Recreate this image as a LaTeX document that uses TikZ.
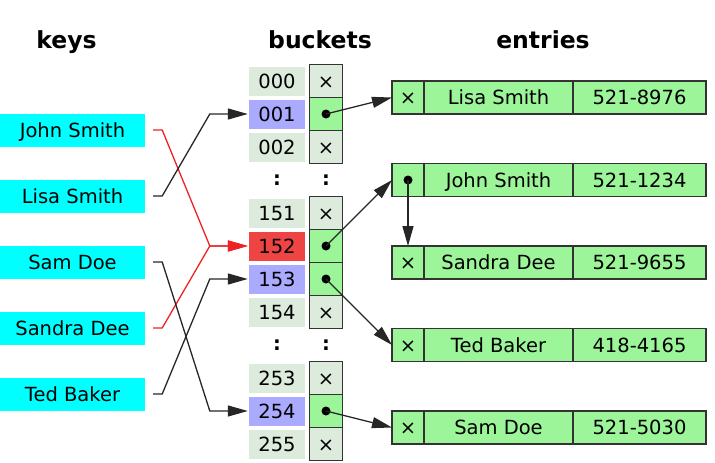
\documentclass[tikz,border=0pt]{standalone}
\usepackage{fontspec}
\setmainfont{DejaVu Sans}
\usepackage{tikz}
\usetikzlibrary{calc, arrows.meta, positioning}
\definecolor{keycyan}{HTML}{00FFFF}
\definecolor{idxgray}{HTML}{DCEBDC}
\definecolor{idxblue}{HTML}{AAAAFF}
\definecolor{idxred}{HTML}{EE4444}
\definecolor{cellgreen}{HTML}{9DF59A}
\definecolor{cellline}{HTML}{333333}
\definecolor{linered}{HTML}{EE2222}
\tikzset{
    keynode/.style = {fill=keycyan, rectangle, inner sep=0em, minimum width=145pt, minimum height=33pt, 
      text height=14pt, text depth=0pt, font=\fontsize{19.5}{23}\selectfont},
    idxnode/.style = {rectangle, inner sep=0em, minimum width=56pt, minimum height=29pt, 
      text height=14pt, text depth=0pt, font=\fontsize{19.5}{23}\selectfont},
    ptrnode/.style = {draw=cellline, line width=1.5pt, rectangle, inner sep=0em, minimum size=33pt, 
      text height=14pt, text depth=0pt, font=\fontsize{19.5}{23}\selectfont},
    entrynode/.style = {draw=cellline, line width=1.5pt, fill=cellgreen, rectangle, inner sep=0em, outer sep=0pt, 
      minimum height=33pt, text height=14pt, text depth=0pt, font=\fontsize{19.5}{23}\selectfont},
    textnode/.style = {draw=none, fill=none, inner sep=0em, font=\fontsize{19.5}{23}\selectfont\bfseries},
    titlenode/.style = {draw=none, fill=none, inner sep=0em, anchor=base, font=\fontsize{23.5}{28}\selectfont\bfseries},
    dotnode/.style = {fill=black, circle, inner sep=0em, minimum size=9pt},
    connect/.style = {black!85, line width=1.3pt, -{Triangle[length=20pt,width=11pt]}},
    hashlink/.style = {connect, shorten >=1pt},
    hashred/.style = {hashlink, linered}
}
\begin{document}
\begin{tikzpicture}[x=1pt, y=-1pt]
    \useasboundingbox (0,0) rectangle (715,463);

    % titles
    \node [name=tkeys, titlenode] at (66.5,48) {keys};
    \node [name=tbuckets, titlenode] at (320,48) {buckets};
    \node [name=tentries, titlenode] at (543,48) {entries};

    % keys
    \node [name=kjohn, keynode] at (72.5,130) {John Smith};
    \node [name=klisa, keynode] at (72.5,196) {Lisa Smith};
    \node [name=ksam, keynode] at (72.5,262) {Sam Doe};
    \node [name=ksandra, keynode] at (72.5,328) {Sandra Dee};
    \node [name=kted, keynode] at (72.5,394) {Ted Baker};

    % buckets
    \foreach \lab/\col/\row in {000/idxgray/0, 001/idxblue/1, 002/idxgray/2, 151/idxgray/4, 152/idxred/5, 
      153/idxblue/6, 154/idxgray/7, 253/idxgray/9, 254/idxblue/10, 255/idxgray/11}
      \node [name=i\lab, idxnode, fill=\col] at (277,{81+33*\row}) {\lab};
    \foreach \lab/\row in {000/0, 002/2, 151/4, 154/7, 253/9, 255/11}
      \node [name=p\lab, ptrnode, fill=idxgray] at (326,{81+33*\row}) {×};
    \foreach \lab/\row in {001/1, 152/5, 153/6, 254/10} {
      \node [name=p\lab, ptrnode, fill=cellgreen] at (326,{81+33*\row}) {};
      \node [name=d\lab, dotnode] at (p\lab.center) {};
    }
    \node [name=gap1, textnode] at (277,180) {:};
    \node [name=gap2, textnode] at (326,180) {:};
    \node [name=gap3, textnode] at (277,345) {:};
    \node [name=gap4, textnode] at (326,345) {:};

    % entries
    \foreach \tag/\mark/\who/\tel [count=\r from 0] in {lisa/×/Lisa Smith/521-8976, john/{}/John Smith/521-1234, 
      sandra/×/Sandra Dee/521-9655, ted/×/Ted Baker/418-4165, sam/×/Sam Doe/521-5030} {
      \node [name=x\tag, entrynode, minimum width=32pt] at (408,{97.5+82.5*\r}) {\mark};
      \node [name=n\tag, entrynode, minimum width=149pt, right=0pt of x\tag] {\who};
      \node [name=t\tag, entrynode, minimum width=133pt, right=0pt of n\tag] {\tel};
    }
    \node [name=djohn, dotnode] at (xjohn.center) {};

    % hash function
    \draw [hashred] ([xshift=8pt]kjohn.east) -- ++(9pt,0) -- ([xshift=-39pt]i152.west) -- (i152.west);
    \draw [hashred] ([xshift=8pt]ksandra.east) -- ++(9pt,0) -- ([xshift=-39pt]i152.west) -- (i152.west);
    \draw [hashlink] ([xshift=8pt]klisa.east) -- ++(9pt,0) -- ([xshift=-39pt]i001.west) -- (i001.west);
    \draw [hashlink] ([xshift=8pt]ksam.east) -- ++(9pt,0) -- ([xshift=-39pt]i254.west) -- (i254.west);
    \draw [hashlink] ([xshift=8pt]kted.east) -- ++(9pt,0) -- ([xshift=-39pt]i153.west) -- (i153.west);

    % pointers
    \draw [connect] (d001.center) -- (xlisa.west);
    \draw [connect] (d152.center) -- (xjohn.west);
    \draw [connect] (d153.center) -- (xted.west);
    \draw [connect] (d254.center) -- (xsam.west);
    \draw [connect] (djohn.center) -- (xsandra.north);
\end{tikzpicture}
\end{document}
